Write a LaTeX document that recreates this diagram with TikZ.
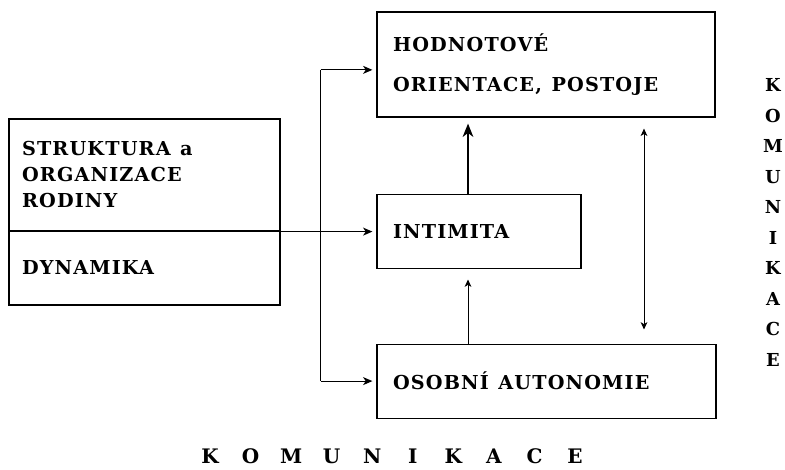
\documentclass[tikz,border=0pt]{standalone}
\usepackage{fontspec}
\setmainfont{DejaVu Serif}[BoldFont={DejaVu Serif Bold}]
\newfontfamily\boxfont[LetterSpace=6]{DejaVu Serif Bold}
\usetikzlibrary{arrows.meta,calc,positioning}
\tikzset{
scheme/.style={>={Stealth[length=7pt,width=6pt,inset=2pt]},line width=0.9pt,
font=\boxfont\fontsize{14.4}{19.5}\selectfont},
box/.style={draw,rectangle,align=left,inner xsep=12pt,inner ysep=0pt,text width=#1},
small tip/.style={>={Stealth[length=5.5pt,width=5pt,inset=1.5pt]},line width=0.6pt},
big tip/.style={>={Stealth[length=10pt,width=8pt,inset=3pt]}},
letter/.style={inner sep=0pt,font=\bfseries\fontsize{#1}{18}\selectfont},
letter/.default={15},
}
\begin{document}
\begin{tikzpicture}[scheme]
                    \useasboundingbox (0,0) rectangle (588.75pt,-352.5pt);

                    \node[box=229.5pt,minimum height=78.75pt] (hod) at (409.5pt,-48.4pt) {HODNOTOVÉ\\[10.5pt]ORIENTACE,\, POSTOJE};
                    \node[box=129pt,minimum height=55.5pt] (int) [below=57pt of hod.south west,anchor=north west] {INTIMITA};
                    \node[box=230.25pt,minimum height=55.5pt] (oso) [below=56pt of int.south west,anchor=north west] {OSOBNÍ\, AUTONOMIE};
                    \node[box=183.75pt,inner xsep=9.75pt,minimum height=84pt] (str) at (108.4pt,-131.25pt) {STRUKTURA\, a\\ORGANIZACE\\RODINY};
                    \node[box=183.75pt,inner xsep=9.75pt,minimum height=55.5pt] (dyn) [below=-0.9pt of str] {DYNAMIKA};

                    \coordinate (j2) at ([xshift=30pt]str.south east);
                    \coordinate (j1) at ($(j2 |- hod.west)+(0,-4pt)$);
                    \coordinate (j3) at (j2 |- oso.west);
                    \draw (j1) -- (j3);
                    \draw (str.south east) -- (j2);
                    \draw[->,shorten >=3pt] (j1) -- (j1 -| hod.west);
                    \draw[->,shorten >=3pt] (j2) -- (j2 -| int.west);
                    \draw[->,shorten >=3pt] (j3) -- (j3 -| oso.west);

                    \coordinate (a1) at ([xshift=-8.25pt]int.north);
                    \coordinate (a2) at (a1 |- oso.north);
                    \coordinate (a3) at ([xshift=73.5pt]hod.south);
                    \draw[big tip,->,shorten >=4.5pt] (a1) -- (a1 |- hod.south);
                    \draw[small tip,->,shorten >=8pt] (a2) -- (a2 |- int.south);
                    \draw[small tip,<->,shorten <=8.25pt,shorten >=10.5pt] (a3) -- (a3 |- oso.north);

                    \foreach \l [count=\i] in {K,O,M,U,N,I,K,A,C,E} {
                        \node[letter=13.4] (r\i) at (579.75pt,{-(63.75+(\i-1)*22.92)*1pt}) {\l};
                        \node[letter] (b\i) at ({(157.5+(\i-1)*30.42)*1pt},-342.5pt) {\l};
                    }

                \end{tikzpicture}
\end{document}
